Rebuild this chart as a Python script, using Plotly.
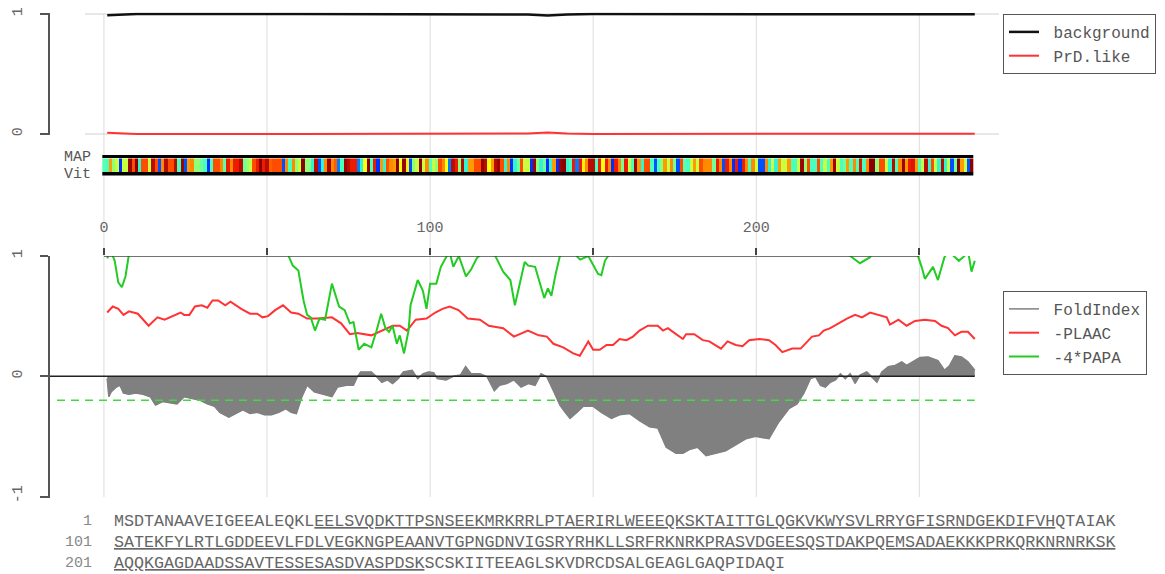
import numpy as np
import plotly.graph_objects as go

# protein sequence, 267 residues, and the underlined stretches (1-based, inclusive)
sequence = (
    "MSDTANAAVEIGEEALEQKLEELSVQDKTTPSNSEEKMRKRRLPTAERIRLWEEEQKSKTAITTGLQGKVKWYSVLRRYGFISRNDGEKDIFVHQTAIAK"
    "SATEKFYLRTLGDDEEVLFDLVEGKNGPEAANVTGPNGDNVIGSRYRHKLLSRFRKNRKPRASVDGEESQSTDAKPQEMSADAEKKKPRKQRKNRNRKSK"
    "AQQKGAGDAADSSAVTESSESASDVASPDSKSCSKIITEEAGLSKVDRCDSALGEAGLGAQPIDAQI"
)
underlined = [(21, 94), (101, 231)]

# per-residue colour score used in the strip (0 = PrD-like, 1 = background-like)
aa_score = {
    "N": 0.0, "Q": 0.05, "Y": 0.12, "G": 0.30, "S": 0.33, "M": 0.35, "P": 0.38,
    "T": 0.42, "A": 0.50, "F": 0.58, "H": 0.60, "D": 0.70, "K": 0.72, "W": 0.78,
    "E": 0.80, "R": 0.88, "C": 0.90, "L": 0.94, "V": 0.97, "I": 0.99,
}

# MAP and Viterbi parses (0 = background, 1 = PrD-like)
map_parse = [0] * len(sequence)
vit_parse = [0] * len(sequence)

# HMM posteriors (top panel)
hmm_pos = [1, 10, 60, 120, 130, 136, 142, 150, 200, 240, 267]
background = [0.99, 1.0, 1.0, 1.0, 0.996, 0.987, 0.996, 1.0, 1.0, 1.0, 0.997]
prd_like = [0.01, 0.0, 0.0, 0.0, 0.004, 0.013, 0.004, 0.0, 0.0, 0.0, 0.003]

# bottom panel series, (position, value)
plaac = [
    (1, 0.53), (2.7, 0.58), (4.4, 0.56), (6, 0.51), (7.7, 0.54), (10.4, 0.52), (13.7, 0.42),
    (16.4, 0.49), (18.6, 0.47), (21.9, 0.51), (23.5, 0.53), (24.6, 0.51), (26.2, 0.51),
    (27.9, 0.58), (30, 0.59), (31.7, 0.57), (33.3, 0.63), (35, 0.63), (37.2, 0.59),
    (38.8, 0.62), (42.1, 0.56), (44.8, 0.52), (47, 0.52), (48.6, 0.49), (50.3, 0.50),
    (52.5, 0.55), (54.9, 0.59), (57.4, 0.53), (59.6, 0.52), (62.3, 0.48), (65.6, 0.48),
    (69.9, 0.49), (72.7, 0.44), (75.4, 0.35), (77.6, 0.36), (82, 0.34), (85.2, 0.38),
    (88.5, 0.42), (90.7, 0.42), (92.9, 0.38), (95.6, 0.47), (98.9, 0.48), (101.6, 0.53),
    (103.8, 0.56), (106, 0.58), (108.7, 0.55), (111.5, 0.48), (115.3, 0.47), (118, 0.42),
    (122.4, 0.40), (125.7, 0.33), (130, 0.38), (133.3, 0.34), (135.8, 0.33), (137.8, 0.27),
    (140.8, 0.24), (143.9, 0.19), (145.9, 0.17), (147, 0.22), (148.5, 0.29), (150, 0.22),
    (152, 0.22), (154.1, 0.26), (156.1, 0.26), (158.1, 0.31), (160.2, 0.30), (162.2, 0.33),
    (164.2, 0.38), (166.8, 0.42), (169.8, 0.42), (171.4, 0.38), (172.9, 0.40), (175.4, 0.35),
    (177.5, 0.31), (178.5, 0.35), (181, 0.35), (183.6, 0.30), (185.6, 0.29), (189.2, 0.23),
    (191.2, 0.29), (193.7, 0.26), (195.8, 0.25), (197.8, 0.30), (200.9, 0.31), (203.9, 0.30),
    (205.9, 0.26), (208, 0.20), (211, 0.23), (213.6, 0.23), (215.1, 0.27), (217.1, 0.33),
    (219.2, 0.34), (220.7, 0.38), (222.7, 0.40), (225.3, 0.44), (227.8, 0.48), (230.3, 0.51),
    (232.4, 0.49), (234.9, 0.53), (237.5, 0.51), (240, 0.49), (241, 0.43), (243.6, 0.47),
    (246.1, 0.42), (248.7, 0.46), (251.7, 0.47), (254.8, 0.46), (256.8, 0.42), (258.8, 0.40),
    (260.9, 0.34), (262.9, 0.37), (264.9, 0.37), (267, 0.31),
]

papa = [
    (1, 0.98), (2, 1.05), (3.3, 0.96), (4.4, 0.78), (5.5, 0.74), (6.6, 0.83), (7.7, 1.02),
    (12, 1.15), (30, 1.2), (50, 1.15), (56, 1.05), (56.6, 1.0), (57.9, 0.92), (59.6, 0.88),
    (61.2, 0.63), (62.3, 0.51), (63.4, 0.49), (64.7, 0.38), (66.1, 0.48), (67.8, 0.47),
    (69.9, 0.77), (72.1, 0.58), (73.8, 0.55), (75.4, 0.44), (76.5, 0.45), (78.1, 0.22),
    (79.8, 0.27), (82, 0.24), (83.6, 0.38), (85, 0.52), (86.3, 0.40), (87.4, 0.37),
    (88.5, 0.42), (89.8, 0.27), (90.7, 0.34), (92, 0.19), (93.4, 0.38), (94, 0.59),
    (96.2, 0.80), (97.8, 0.71), (98.9, 0.56), (100, 0.77), (101.9, 0.77), (103.3, 0.91),
    (104.9, 0.99), (106, 1.03), (107.1, 0.91), (108.8, 1.0), (111, 0.83), (112.6, 0.89),
    (114.3, 0.98), (115.8, 1.02), (118, 1.06), (120.2, 0.99), (122.4, 0.87), (124.6, 0.80),
    (126, 0.59), (129, 0.95), (130.1, 0.92), (132.2, 0.91), (133.6, 0.78), (135, 0.65),
    (136.1, 0.73), (137.2, 0.67), (138.5, 0.85), (139.7, 0.99), (142, 1.08), (146, 0.97),
    (148.5, 1.0), (150, 0.92), (151.5, 0.85), (152.5, 0.84), (153.6, 0.96), (154.6, 1.0),
    (160, 1.15), (200, 1.2), (228, 1.02), (228.8, 1.0), (231.8, 0.94), (234.9, 0.99),
    (236, 1.05), (245, 1.15), (249.2, 1.02), (249.7, 0.99), (250.7, 0.91), (251.7, 0.81),
    (252.9, 0.86), (254.2, 0.91), (255.7, 0.80), (257.7, 0.99), (259, 1.04), (260.9, 0.99),
    (262.1, 0.96), (263.4, 0.99), (265, 1.03), (266, 0.87), (267, 0.96),
]

fold_index = [
    (1, -0.02), (1.5, -0.17), (2.2, -0.13), (3.8, -0.09), (4.9, -0.075), (6, -0.14),
    (7.7, -0.15), (9.8, -0.14), (12, -0.15), (14.2, -0.17), (15.8, -0.24), (18, -0.21),
    (20.2, -0.22), (22.4, -0.23), (24.6, -0.17), (27.3, -0.19), (29.5, -0.20), (31.7, -0.23),
    (33.9, -0.25), (35.5, -0.30), (38.3, -0.34), (40.4, -0.31), (42.6, -0.28), (44.8, -0.31),
    (47, -0.30), (49.2, -0.32), (51.4, -0.32), (53.6, -0.30), (55.7, -0.27), (57.4, -0.30),
    (59, -0.31), (60.7, -0.17), (62.3, -0.075), (64.5, -0.13), (67.2, -0.15), (69.9, -0.17),
    (71.6, -0.09), (74.3, -0.075), (76.5, -0.075), (77.6, -0.01), (78.7, 0.036), (82, 0.036),
    (83.6, -0.005), (85.2, -0.05), (86.9, -0.03), (88.5, -0.06), (90.2, -0.02), (91.8, 0.036),
    (94.5, 0.05), (96.2, -0.02), (97.8, 0.02), (99.5, 0.036), (101.1, 0.03), (102.2, -0.02),
    (104.9, -0.03), (107.1, 0.0), (109.3, 0.01), (110.9, 0.08), (112.6, 0.02), (115.3, 0.02),
    (117.5, -0.005), (119.7, -0.12), (121.3, -0.075), (123.5, -0.06), (125.7, -0.03),
    (127.9, -0.09), (130.1, -0.06), (132.2, -0.075), (134, 0.02), (135.8, -0.005),
    (137.8, -0.12), (139.8, -0.24), (141.4, -0.30), (142.9, -0.35), (145, -0.30), (147, -0.25),
    (150, -0.25), (152.5, -0.30), (155.6, -0.35), (158.1, -0.32), (161.2, -0.31), (164.2, -0.37),
    (167.3, -0.42), (169.8, -0.43), (172.4, -0.59), (175.4, -0.64), (177.5, -0.64),
    (179.5, -0.61), (182, -0.59), (184.6, -0.66), (187.6, -0.64), (190.6, -0.62),
    (193.7, -0.57), (196.8, -0.52), (199.8, -0.50), (203.9, -0.52), (206.9, -0.38),
    (210, -0.27), (212.5, -0.23), (214.6, -0.14), (216.6, -0.02), (218.2, -0.005),
    (219.7, -0.075), (221.2, -0.09), (222.7, -0.05), (224.3, -0.03), (225.8, 0.02),
    (227.3, -0.02), (228.8, 0.02), (230.3, -0.06), (231.8, 0.01), (233.9, 0.036),
    (235.4, -0.005), (237, -0.05), (238.5, 0.036), (240.5, 0.08), (242.6, 0.09), (244.6, 0.12),
    (246.1, 0.09), (248.2, 0.12), (250.2, 0.155), (252.7, 0.16), (255.7, 0.13), (257.7, 0.05),
    (259.3, 0.09), (260.9, 0.17), (262.9, 0.16), (264.9, 0.12), (267, 0.05),
]

papa_threshold = -0.2
x_ticks = [0, 50, 100, 150, 200, 250]
x_ticktext = ["0", "", "100", "", "200", ""]

# ---- geometry (pixels of the 1165x574 page) ----
W, H = 1165, 574
ML, MR, MT, MB = 50, 165, 10, 70
PX0, PX1 = ML, W - MR
PY0, PY1 = MT, H - MB
X0 = (PX0 - 104) / 3.265
X1 = (PX1 - 104) / 3.265


def py(p):
    return (PY1 - p) / (PY1 - PY0)


def px(p):
    return (p - PX0) / (PX1 - PX0)


FONT = "Liberation Mono, Courier New, monospace"
GREY = "#555555"

residues = np.arange(len(sequence))
strip = [aa_score[c] for c in sequence]
strip_scale = [
    [0.0, "#0030ff"], [0.2, "#00b0ff"], [0.32, "#40ffc8"], [0.45, "#a8ff60"],
    [0.58, "#ffff10"], [0.72, "#ff8a00"], [0.86, "#ff2000"], [1.0, "#800000"],
]

fig = go.Figure()

fig.add_trace(go.Scatter(x=hmm_pos, y=background, mode="lines", name=" background",
                         line=dict(color="#111111", width=2.5), xaxis="x", yaxis="y",
                         legend="legend"))
fig.add_trace(go.Scatter(x=hmm_pos, y=prd_like, mode="lines", name=" PrD.like",
                         line=dict(color="#ff3333", width=2), xaxis="x", yaxis="y",
                         legend="legend"))

fig.add_trace(go.Heatmap(x=residues, y=[0.17, 0.83], z=[strip], colorscale=strip_scale,
                         zmin=0, zmax=1, showscale=False, hoverinfo="skip",
                         xaxis="x3", yaxis="y3"))
fig.add_trace(go.Heatmap(x=residues, y=[0, 0.17, 0.83, 1.0],
                         z=[vit_parse, [None] * len(sequence), map_parse],
                         colorscale=[[0, "#000000"], [1, "#ff0000"]], zmin=0, zmax=1,
                         showscale=False, hoverinfo="skip", xaxis="x3", yaxis="y3"))

fx, fy = zip(*fold_index)
fig.add_trace(go.Scatter(x=fx, y=fy, mode="lines", fill="tozeroy", fillcolor="#808080",
                         line=dict(color="#808080", width=0.5), showlegend=False,
                         xaxis="x2", yaxis="y2"))
fig.add_trace(go.Scatter(x=fx, y=fy, mode="lines", name=" FoldIndex",
                         line=dict(color="#808080", width=1.5), xaxis="x2", yaxis="y2",
                         legend="legend2"))
lx, ly = zip(*plaac)
fig.add_trace(go.Scatter(x=lx, y=ly, mode="lines", name=" -PLAAC",
                         line=dict(color="#ff3333", width=2), xaxis="x2", yaxis="y2",
                         legend="legend2"))
gx, gy = zip(*papa)
fig.add_trace(go.Scatter(x=gx, y=gy, mode="lines", name=" -4*PAPA",
                         line=dict(color="#22cc22", width=2), xaxis="x2", yaxis="y2",
                         legend="legend2"))

shapes = []
for xv in x_ticks:
    shapes.append(dict(type="line", xref="x", yref="paper", x0=xv, x1=xv,
                       y0=py(497), y1=py(14), layer="below",
                       line=dict(color="#dcdcdc", width=1)))
for yv in (0, 1):
    shapes.append(dict(type="line", xref="x", yref="y", x0=(85 - 104) / 3.265, x1=X1,
                       y0=yv, y1=yv, layer="below", line=dict(color="#d0d0d0", width=1)))
shapes.append(dict(type="line", xref="x2", yref="y2", x0=x_ticks[0], x1=x_ticks[-1],
                   y0=1, y1=1, line=dict(color="#444444", width=1.5)))
shapes.append(dict(type="line", xref="x2", yref="y2", x0=X0, x1=len(sequence), y0=0, y1=0,
                   line=dict(color="#222222", width=1.5)))
shapes.append(dict(type="line", xref="x2", yref="y2", x0=(57 - 104) / 3.265,
                   x1=len(sequence), y0=papa_threshold, y1=papa_threshold,
                   line=dict(color="#3ddc3d", width=1.5, dash="8px,6px")))


def seq_row(start):
    parts = []
    for i in range(start, min(start + 100, len(sequence) + 1)):
        c = sequence[i - 1]
        inside = any(a <= i <= b for a, b in underlined)
        prev_inside = any(a <= i - 1 <= b for a, b in underlined) and i > start
        if inside and not prev_inside:
            parts.append("<u>")
        if not inside and prev_inside:
            parts.append("</u>")
        parts.append(c)
    last = min(start + 99, len(sequence))
    if any(a <= last <= b for a, b in underlined):
        parts.append("</u>")
    return "".join(parts)


annotations = [
    dict(text="MAP", x=px(93), y=py(157), xref="paper", yref="paper", xanchor="right",
         yanchor="middle", showarrow=False, font=dict(family=FONT, size=15, color=GREY)),
    dict(text="Vit", x=px(93), y=py(174), xref="paper", yref="paper", xanchor="right",
         yanchor="middle", showarrow=False, font=dict(family=FONT, size=15, color=GREY)),
]
for k, start in enumerate(range(1, len(sequence) + 1, 100)):
    yrow = py(521 + 21 * k)
    annotations.append(dict(text=str(start), x=px(94), y=yrow, xref="paper", yref="paper",
                            xanchor="right", yanchor="middle", showarrow=False,
                            font=dict(family=FONT, size=15, color="#888888")))
    annotations.append(dict(text=seq_row(start), x=px(112), y=yrow, xref="paper",
                            yref="paper", xanchor="left", yanchor="middle", showarrow=False,
                            font=dict(family=FONT, size=16.7, color="#666666")))

xbase = dict(range=[X0, X1], showgrid=False, zeroline=False, fixedrange=True,
             automargin=False)
ybase = dict(showgrid=False, zeroline=False, showline=True, linecolor=GREY, linewidth=1.5,
             ticks="outside", ticklen=8, tickwidth=1.5, tickcolor=GREY, tickangle=-90,
             ticklabelstandoff=12, automargin=False, fixedrange=True,
             tickfont=dict(family=FONT, size=15, color="#666666"))

legend_style = dict(font=dict(family=FONT, size=16, color=GREY), bordercolor=GREY,
                    borderwidth=1, bgcolor="white", xanchor="left", yanchor="top",
                    tracegroupgap=0)

fig.update_layout(
    width=W, height=H,
    margin=dict(l=ML, r=MR, t=MT, b=MB),
    paper_bgcolor="white", plot_bgcolor="rgba(0,0,0,0)",
    xaxis=dict(**xbase, anchor="y", visible=False),
    xaxis2=dict(**xbase, anchor="y2", side="top", showline=False, ticks="outside",
                ticklen=7, tickwidth=1.5, tickcolor="#444444", tickvals=x_ticks,
                ticktext=x_ticktext, ticklabelstandoff=10,
                tickfont=dict(family=FONT, size=15, color="#666666")),
    xaxis3=dict(**xbase, anchor="y3", visible=False),
    yaxis=dict(**ybase, domain=[py(134 + 1.44), py(14 - 1.44)], range=[-0.012, 1.012],
               tickvals=[0, 1], ticktext=["0", "1"]),
    yaxis2=dict(**ybase, domain=[py(376 + 121.7), py(256)], range=[-1.01, 1.0],
                tickvals=[-1, 0, 1], ticktext=["-1", "0", "1"]),
    yaxis3=dict(domain=[py(175.5), py(155)], range=[0, 1], visible=False, fixedrange=True),
    legend=dict(**legend_style, x=px(1003), y=py(14)),
    legend2=dict(**legend_style, x=px(1003), y=py(291)),
    shapes=shapes,
    annotations=annotations,
    hovermode=False,
)

fig.write_html("out.html", config={"displayModeBar": False},
               post_script="document.body.style.margin='0';")
